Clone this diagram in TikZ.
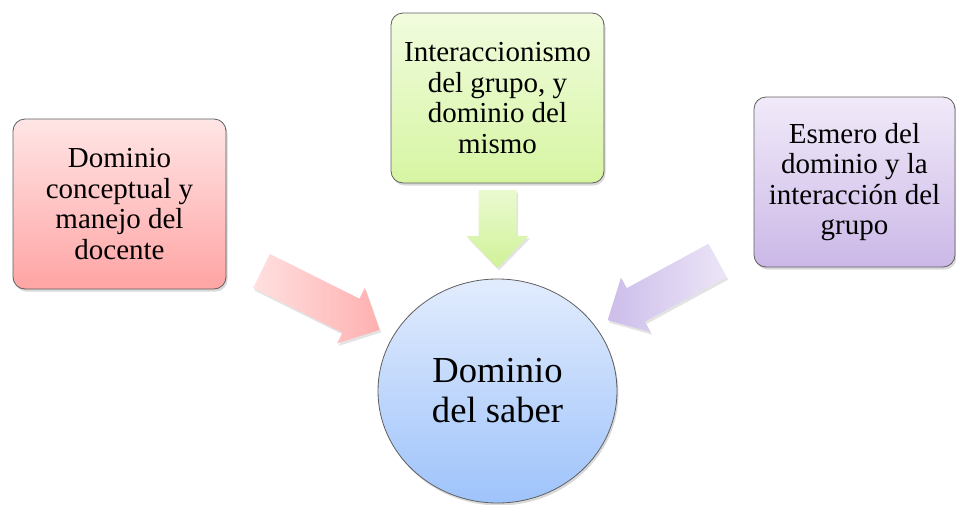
\documentclass[tikz,border=0pt]{standalone}
\usepackage{fontspec}
\setmainfont{Liberation Serif}
\usetikzlibrary{shapes.geometric,shadows}
\definecolor{redtop}{RGB}{255,229,229}
\definecolor{redbot}{RGB}{255,164,164}
\definecolor{greentop}{RGB}{241,252,222}
\definecolor{greenbot}{RGB}{214,245,162}
\definecolor{purptop}{RGB}{241,234,249}
\definecolor{purpbot}{RGB}{203,184,231}
\definecolor{bluetop}{RGB}{226,236,253}
\definecolor{bluebot}{RGB}{158,195,251}
\definecolor{redarrA}{RGB}{255,224,224}
\definecolor{redarrB}{RGB}{255,176,176}
\definecolor{grnarrA}{RGB}{234,250,208}
\definecolor{grnarrB}{RGB}{208,242,152}
\definecolor{purarrA}{RGB}{236,229,247}
\definecolor{purarrB}{RGB}{204,189,234}
\definecolor{boxline}{RGB}{95,95,95}
\tikzset{
  box/.style={rectangle, rounded corners=12pt, draw=boxline, line width=0.8pt,
    align=center, inner sep=0pt,
    font=\fontsize{29}{30.5}\selectfont,
    drop shadow={opacity=0.3, shadow xshift=1.5pt, shadow yshift=-2.5pt}},
  hub/.style={ellipse, draw=boxline, line width=0.8pt, align=center, inner sep=0pt,
    font=\fontsize{36.6}{40}\selectfont,
    drop shadow={opacity=0.3, shadow xshift=1.5pt, shadow yshift=-2.5pt}},
  fatarrow/.style={drop shadow={opacity=0.22, shadow xshift=1.5pt, shadow yshift=-2.5pt}}
}
\newcommand{\blockarrow}[4]{%
  \begin{scope}[shift={(#1)},rotate=#2]
    \path[fatarrow,#4] (0,-19) -- ({#3-32},-19) -- ({#3-32},-31) -- (#3,0)
      -- ({#3-32},31) -- ({#3-32},19) -- (0,19) -- cycle;
  \end{scope}}
\begin{document}
\begin{tikzpicture}[x=1pt,y=-1pt]
  \useasboundingbox (0,0) rectangle (956,504);
  % arrows
  \coordinate (tailR) at (261.5,271);
  \coordinate (tailG) at (497.5,190);
  \coordinate (tailP) at (717.5,260.5);
  \blockarrow{tailR}{-26.5}{132}{left color=redarrA, right color=redarrB}
  \blockarrow{tailG}{-90}{78}{top color=grnarrA, bottom color=grnarrB}
  \blockarrow{tailP}{208.5}{125}{left color=purarrB, right color=purarrA}
  % boxes
  \node[box, top color=redtop, bottom color=redbot, minimum width=213pt, minimum height=170pt]
    (docente) at (119.5,204) {Dominio\\conceptual y\\manejo del\\docente};
  \node[box, top color=greentop, bottom color=greenbot, minimum width=213pt, minimum height=170pt]
    (grupo) at (497.5,98) {Interaccionismo\\del grupo, y\\dominio del\\mismo};
  \node[box, top color=purptop, bottom color=purpbot, minimum width=201pt, minimum height=170pt]
    (esmero) at (854.5,182) {\vspace*{14pt}Esmero del\\dominio y la\\interacción del\\grupo};
  \node[hub, top color=bluetop, bottom color=bluebot, minimum width=239pt, minimum height=224pt]
    (saber) at (497.5,391) {Dominio\\del saber};
\end{tikzpicture}
\end{document}
